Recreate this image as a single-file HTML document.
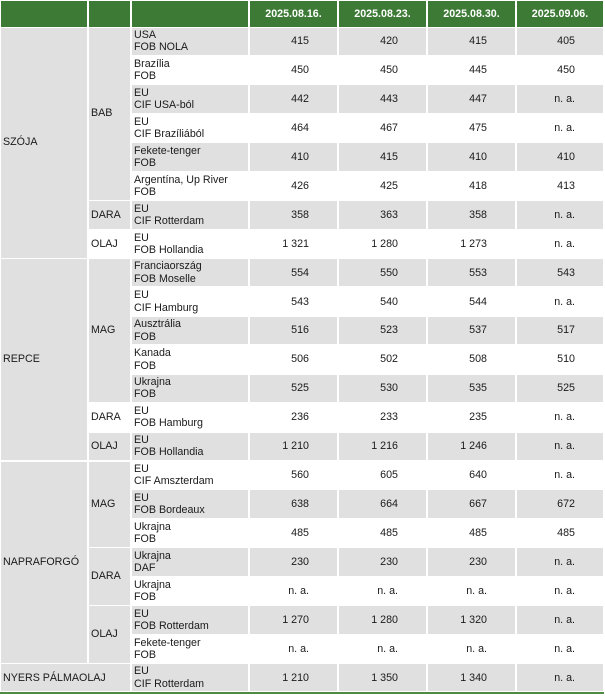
<!DOCTYPE html>
<html><head><meta charset="utf-8"><style>
html,body{margin:0;padding:0;background:#fff;}
body{width:605px;height:696px;position:relative;overflow:hidden;font-family:"Liberation Sans",Arial,sans-serif;font-size:10.7px;color:#1a1a1a;}
.c{position:absolute;display:flex;align-items:center;box-sizing:border-box;line-height:12.3px;white-space:nowrap;}
.g{background:#e0e0e0;}
.w{background:#fff;}
.h{background:#3c7a35;color:#fff;font-weight:bold;justify-content:center;top:1px;height:26px;}
.l{padding-left:2px;}
.n{justify-content:flex-end;padding-right:28px;}
.c1{left:1px;width:86px;}
.c2{left:89px;width:41px;}
.c3{left:132px;width:116px;}
.c4{left:250px;width:87px;}
.c5{left:339px;width:87px;}
.c6{left:428px;width:87px;}
.c7{left:517px;width:86px;}
.line{position:absolute;left:0;width:604px;top:692px;height:2px;background:#4f8a45;}
</style></head><body>
<div class="c h c1"></div><div class="c h c2"></div><div class="c h c3"></div>
<div class="c h c4">2025.08.16.</div><div class="c h c5">2025.08.23.</div><div class="c h c6">2025.08.30.</div><div class="c h c7">2025.09.06.</div>

<div class="c g l c1" style="top:27.6px;height:229.94px">SZÓJA</div>
<div class="c g l c1" style="top:259.04px;height:201.01px">REPCE</div>
<div class="c g l c1" style="top:461.55px;height:201.01px">NAPRAFORGÓ</div>
<div class="c g l" style="left:1px;width:129px;top:664.06px;height:27.43px">NYERS PÁLMAOLAJ</div>

<div class="c g l c2" style="top:27.6px;height:172.08px">BAB</div>
<div class="c g l c2" style="top:201.18px;height:27.43px">DARA</div>
<div class="c w l c2" style="top:230.11px;height:27.43px">OLAJ</div>
<div class="c g l c2" style="top:259.04px;height:143.15px">MAG</div>
<div class="c w l c2" style="top:403.69px;height:27.43px">DARA</div>
<div class="c g l c2" style="top:432.62px;height:27.43px">OLAJ</div>
<div class="c g l c2" style="top:461.55px;height:85.29px">MAG</div>
<div class="c g l c2" style="top:548.34px;height:56.36px">DARA</div>
<div class="c g l c2" style="top:606.2px;height:56.36px">OLAJ</div>

<div class="c g l c3" style="top:27.6px;height:27.43px">USA<br>FOB NOLA</div><div class="c g n c4" style="top:27.6px;height:27.43px">415</div><div class="c g n c5" style="top:27.6px;height:27.43px">420</div><div class="c g n c6" style="top:27.6px;height:27.43px">415</div><div class="c g n c7" style="top:27.6px;height:27.43px">405</div>
<div class="c w l c3" style="top:56.53px;height:27.43px">Brazília<br>FOB</div><div class="c w n c4" style="top:56.53px;height:27.43px">450</div><div class="c w n c5" style="top:56.53px;height:27.43px">450</div><div class="c w n c6" style="top:56.53px;height:27.43px">445</div><div class="c w n c7" style="top:56.53px;height:27.43px">450</div>
<div class="c g l c3" style="top:85.46px;height:27.43px">EU<br>CIF USA-ból</div><div class="c g n c4" style="top:85.46px;height:27.43px">442</div><div class="c g n c5" style="top:85.46px;height:27.43px">443</div><div class="c g n c6" style="top:85.46px;height:27.43px">447</div><div class="c g n c7" style="top:85.46px;height:27.43px">n. a.</div>
<div class="c w l c3" style="top:114.39px;height:27.43px">EU<br>CIF Brazíliából</div><div class="c w n c4" style="top:114.39px;height:27.43px">464</div><div class="c w n c5" style="top:114.39px;height:27.43px">467</div><div class="c w n c6" style="top:114.39px;height:27.43px">475</div><div class="c w n c7" style="top:114.39px;height:27.43px">n. a.</div>
<div class="c g l c3" style="top:143.32px;height:27.43px">Fekete-tenger<br>FOB</div><div class="c g n c4" style="top:143.32px;height:27.43px">410</div><div class="c g n c5" style="top:143.32px;height:27.43px">415</div><div class="c g n c6" style="top:143.32px;height:27.43px">410</div><div class="c g n c7" style="top:143.32px;height:27.43px">410</div>
<div class="c w l c3" style="top:172.25px;height:27.43px">Argentína, Up River<br>FOB</div><div class="c w n c4" style="top:172.25px;height:27.43px">426</div><div class="c w n c5" style="top:172.25px;height:27.43px">425</div><div class="c w n c6" style="top:172.25px;height:27.43px">418</div><div class="c w n c7" style="top:172.25px;height:27.43px">413</div>
<div class="c g l c3" style="top:201.18px;height:27.43px">EU<br>CIF Rotterdam</div><div class="c g n c4" style="top:201.18px;height:27.43px">358</div><div class="c g n c5" style="top:201.18px;height:27.43px">363</div><div class="c g n c6" style="top:201.18px;height:27.43px">358</div><div class="c g n c7" style="top:201.18px;height:27.43px">n. a.</div>
<div class="c w l c3" style="top:230.11px;height:27.43px">EU<br>FOB Hollandia</div><div class="c w n c4" style="top:230.11px;height:27.43px">1 321</div><div class="c w n c5" style="top:230.11px;height:27.43px">1 280</div><div class="c w n c6" style="top:230.11px;height:27.43px">1 273</div><div class="c w n c7" style="top:230.11px;height:27.43px">n. a.</div>

<div class="c g l c3" style="top:259.04px;height:27.43px">Franciaország<br>FOB Moselle</div><div class="c g n c4" style="top:259.04px;height:27.43px">554</div><div class="c g n c5" style="top:259.04px;height:27.43px">550</div><div class="c g n c6" style="top:259.04px;height:27.43px">553</div><div class="c g n c7" style="top:259.04px;height:27.43px">543</div>
<div class="c w l c3" style="top:287.97px;height:27.43px">EU<br>CIF Hamburg</div><div class="c w n c4" style="top:287.97px;height:27.43px">543</div><div class="c w n c5" style="top:287.97px;height:27.43px">540</div><div class="c w n c6" style="top:287.97px;height:27.43px">544</div><div class="c w n c7" style="top:287.97px;height:27.43px">n. a.</div>
<div class="c g l c3" style="top:316.9px;height:27.43px">Ausztrália<br>FOB</div><div class="c g n c4" style="top:316.9px;height:27.43px">516</div><div class="c g n c5" style="top:316.9px;height:27.43px">523</div><div class="c g n c6" style="top:316.9px;height:27.43px">537</div><div class="c g n c7" style="top:316.9px;height:27.43px">517</div>
<div class="c w l c3" style="top:345.83px;height:27.43px">Kanada<br>FOB</div><div class="c w n c4" style="top:345.83px;height:27.43px">506</div><div class="c w n c5" style="top:345.83px;height:27.43px">502</div><div class="c w n c6" style="top:345.83px;height:27.43px">508</div><div class="c w n c7" style="top:345.83px;height:27.43px">510</div>
<div class="c g l c3" style="top:374.76px;height:27.43px">Ukrajna<br>FOB</div><div class="c g n c4" style="top:374.76px;height:27.43px">525</div><div class="c g n c5" style="top:374.76px;height:27.43px">530</div><div class="c g n c6" style="top:374.76px;height:27.43px">535</div><div class="c g n c7" style="top:374.76px;height:27.43px">525</div>
<div class="c w l c3" style="top:403.69px;height:27.43px">EU<br>FOB Hamburg</div><div class="c w n c4" style="top:403.69px;height:27.43px">236</div><div class="c w n c5" style="top:403.69px;height:27.43px">233</div><div class="c w n c6" style="top:403.69px;height:27.43px">235</div><div class="c w n c7" style="top:403.69px;height:27.43px">n. a.</div>
<div class="c g l c3" style="top:432.62px;height:27.43px">EU<br>FOB Hollandia</div><div class="c g n c4" style="top:432.62px;height:27.43px">1 210</div><div class="c g n c5" style="top:432.62px;height:27.43px">1 216</div><div class="c g n c6" style="top:432.62px;height:27.43px">1 246</div><div class="c g n c7" style="top:432.62px;height:27.43px">n. a.</div>

<div class="c w l c3" style="top:461.55px;height:27.43px">EU<br>CIF Amszterdam</div><div class="c w n c4" style="top:461.55px;height:27.43px">560</div><div class="c w n c5" style="top:461.55px;height:27.43px">605</div><div class="c w n c6" style="top:461.55px;height:27.43px">640</div><div class="c w n c7" style="top:461.55px;height:27.43px">n. a.</div>
<div class="c g l c3" style="top:490.48px;height:27.43px">EU<br>FOB Bordeaux</div><div class="c g n c4" style="top:490.48px;height:27.43px">638</div><div class="c g n c5" style="top:490.48px;height:27.43px">664</div><div class="c g n c6" style="top:490.48px;height:27.43px">667</div><div class="c g n c7" style="top:490.48px;height:27.43px">672</div>
<div class="c w l c3" style="top:519.41px;height:27.43px">Ukrajna<br>FOB</div><div class="c w n c4" style="top:519.41px;height:27.43px">485</div><div class="c w n c5" style="top:519.41px;height:27.43px">485</div><div class="c w n c6" style="top:519.41px;height:27.43px">485</div><div class="c w n c7" style="top:519.41px;height:27.43px">485</div>
<div class="c g l c3" style="top:548.34px;height:27.43px">Ukrajna<br>DAF</div><div class="c g n c4" style="top:548.34px;height:27.43px">230</div><div class="c g n c5" style="top:548.34px;height:27.43px">230</div><div class="c g n c6" style="top:548.34px;height:27.43px">230</div><div class="c g n c7" style="top:548.34px;height:27.43px">n. a.</div>
<div class="c w l c3" style="top:577.27px;height:27.43px">Ukrajna<br>FOB</div><div class="c w n c4" style="top:577.27px;height:27.43px">n. a.</div><div class="c w n c5" style="top:577.27px;height:27.43px">n. a.</div><div class="c w n c6" style="top:577.27px;height:27.43px">n. a.</div><div class="c w n c7" style="top:577.27px;height:27.43px">n. a.</div>
<div class="c g l c3" style="top:606.2px;height:27.43px">EU<br>FOB Rotterdam</div><div class="c g n c4" style="top:606.2px;height:27.43px">1 270</div><div class="c g n c5" style="top:606.2px;height:27.43px">1 280</div><div class="c g n c6" style="top:606.2px;height:27.43px">1 320</div><div class="c g n c7" style="top:606.2px;height:27.43px">n. a.</div>
<div class="c w l c3" style="top:635.13px;height:27.43px">Fekete-tenger<br>FOB</div><div class="c w n c4" style="top:635.13px;height:27.43px">n. a.</div><div class="c w n c5" style="top:635.13px;height:27.43px">n. a.</div><div class="c w n c6" style="top:635.13px;height:27.43px">n. a.</div><div class="c w n c7" style="top:635.13px;height:27.43px">n. a.</div>

<div class="c g l c3" style="top:664.06px;height:27.43px">EU<br>CIF Rotterdam</div><div class="c g n c4" style="top:664.06px;height:27.43px">1 210</div><div class="c g n c5" style="top:664.06px;height:27.43px">1 350</div><div class="c g n c6" style="top:664.06px;height:27.43px">1 340</div><div class="c g n c7" style="top:664.06px;height:27.43px">n. a.</div>

<div class="line"></div>
</body></html>
